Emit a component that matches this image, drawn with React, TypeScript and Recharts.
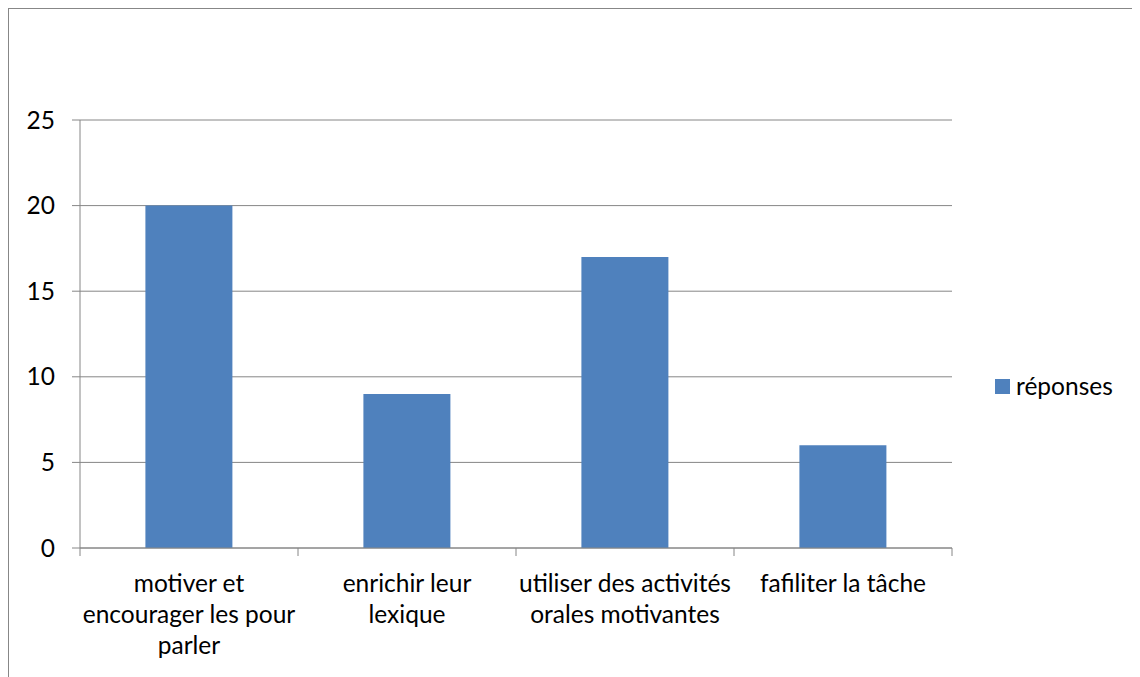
import React from "react";
import { BarChart, Bar, XAxis, YAxis, CartesianGrid } from "recharts";

const categories = [
  "motiver et encourager les pour parler",
  "enrichir leur lexique",
  "utiliser des activités orales motivantes",
  "fafiliter la tâche",
];
const categoryLines = [
  ["motiver et", "encourager les pour", "parler"],
  ["enrichir leur", "lexique"],
  ["utiliser des activités", "orales motivantes"],
  ["fafiliter la tâche"],
];
const reponses = [20, 9, 17, 6];
const yTicks = [0, 5, 10, 15, 20, 25];
const seriesName = "réponses";

const data = categories.map((c, i) => ({ name: c, value: reponses[i], idx: i }));

const FONT = "Lato, 'Open Sans', sans-serif";
const FS = 24.5;
const AXIS = "#868686";
const BAR = "#4F81BD";

const CHART_W = 1131;
const CHART_H = 668;
const MARGIN = { top: 111, right: 188, left: 0, bottom: 0 };
const Y_W = 71;
const X_H = 129;
const PLOT_W = CHART_W - MARGIN.left - MARGIN.right - Y_W;
const BAND = PLOT_W / categories.length;

const XTick = (props: any) => {
  const { x, y, payload, index } = props;
  const lines = categoryLines[index] || [String(payload.value)];
  const left = x - BAND / 2;
  const right = x + BAND / 2;
  return (
    <g>
      <line x1={left} y1={y - 8} x2={left} y2={y} stroke={AXIS} strokeWidth={1} />
      {index === categories.length - 1 && (
        <line x1={right} y1={y - 8} x2={right} y2={y} stroke={AXIS} strokeWidth={1} />
      )}
      <text x={x} y={y + 36} textAnchor="middle" fontFamily={FONT} fontSize={FS} fill="#000">
        {lines.map((l, i) => (
          <tspan key={i} x={x} dy={i === 0 ? 0 : 31}>
            {l}
          </tspan>
        ))}
      </text>
    </g>
  );
};

export default function App() {
  return (
    <div
      style={{
        position: "relative",
        width: CHART_W,
        height: CHART_H,
        borderLeft: "1px solid #878787",
        borderTop: "1px solid #878787",
        background: "#fff",
      }}
    >
      <BarChart width={CHART_W} height={CHART_H} data={data} margin={MARGIN} barCategoryGap="30%">
        <CartesianGrid vertical={false} stroke={AXIS} strokeWidth={1} />
        <XAxis
          dataKey="name"
          height={X_H}
          axisLine={{ stroke: AXIS }}
          tickLine={false}
          tick={<XTick />}
          interval={0}
        />
        <YAxis
          width={Y_W}
          domain={[0, 25]}
          ticks={yTicks}
          axisLine={{ stroke: AXIS }}
          tickLine={{ stroke: AXIS }}
          tickSize={8}
          tickMargin={17}
          tick={{ fontFamily: FONT, fontSize: FS, fill: "#000" }}
        />
        <Bar dataKey="value" name={seriesName} fill={BAR} isAnimationActive={false} />
      </BarChart>
      <div
        style={{
          position: "absolute",
          left: 986,
          top: 362,
          display: "flex",
          alignItems: "center",
          fontFamily: FONT,
          fontSize: FS,
          color: "#000",
          lineHeight: "30px",
        }}
      >
        <span style={{ display: "inline-block", width: 15, height: 15, background: BAR, marginRight: 6 }} />
        <span>{seriesName}</span>
      </div>
    </div>
  );
}
